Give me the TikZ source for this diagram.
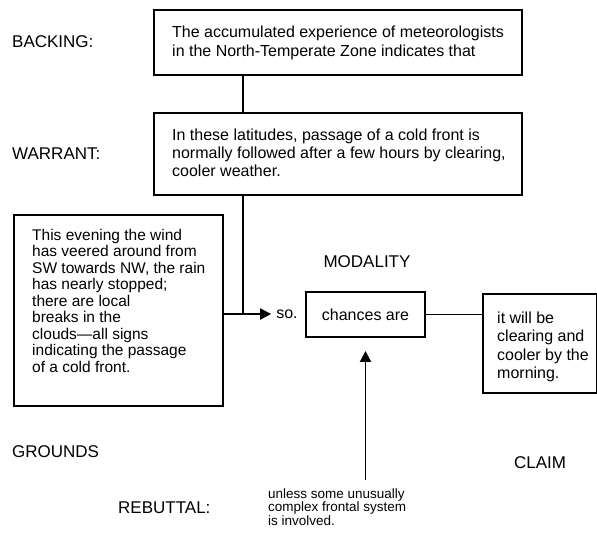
\documentclass[tikz,border=0pt]{standalone}
\usepackage{fontspec}
\setmainfont{Liberation Sans}
\usetikzlibrary{arrows.meta}
\begin{document}
\begin{tikzpicture}[x=1pt,y=-1pt,
  box/.style={draw, line width=1.9pt, rectangle, inner sep=0pt},
  txt/.style={align=left, inner sep=0pt, font=\fontsize{16}{19}\selectfont},
  lbl/.style={inner sep=0pt, font=\fontsize{17}{19}\selectfont},
  conn/.style={line width=1.9pt},
  arr/.style={line width=1.9pt, -{Triangle[length=11pt,width=11pt]}}]
\useasboundingbox (0,0) rectangle (597,538);
% boxes
\node[box, minimum width=368pt, minimum height=65pt] (backing) at (338,42.5) {};
\node[txt, anchor=west] (backingtext) at (172,42.5) {The accumulated experience of meteorologists\\in the North-Temperate Zone indicates that};
\node[box, minimum width=368pt, minimum height=82pt] (warrant) at (338,154) {};
\node[txt, anchor=west, font=\fontsize{16}{18}\selectfont] (warranttext) at (172,153) {In these latitudes, passage of a cold front is\\normally followed after a few hours by clearing,\\cooler weather.};
\node[box, minimum width=209pt, minimum height=191pt] (grounds) at (118.5,310.5) {};
\node[txt, anchor=north west, font=\fontsize{15.5}{16.5}\selectfont] (groundstext) at (32,229) {This evening the wind\\has veered around from\\SW towards NW, the rain\\has nearly stopped;\\there are local\\breaks in the\\clouds\textemdash all signs\\indicating the passage\\of a cold front.};
\node[box, minimum width=119pt, minimum height=45pt, font=\fontsize{16}{18}\selectfont] (chances) at (365.5,314.5) {chances are};
\node[box, minimum width=114pt, minimum height=99pt] (claim) at (540,343.5) {};
\node[txt, anchor=west, font=\fontsize{16}{18.3}\selectfont] (claimtext) at (497,347) {it will be\\clearing and\\cooler by the\\morning.};
% labels
\node[lbl, anchor=west] (lback) at (12,42) {BACKING:};
\node[lbl, anchor=west] (lwarr) at (12,154) {WARRANT:};
\node[lbl, anchor=west] (lgrou) at (12,452) {GROUNDS};
\node[lbl] (lclaim) at (540,463) {CLAIM};
\node[lbl] (lmod) at (367,262) {MODALITY};
\node[lbl, anchor=west] (lreb) at (118,508) {REBUTTAL:};
\node[lbl, font=\fontsize{16}{18}\selectfont] (so) at (287,314) {so.};
\node[txt, anchor=west, font=\fontsize{13.5}{13.5}\selectfont] (rebtext) at (268,507) {unless some unusually\\complex frontal system\\is involved.};
% connectors
\coordinate (jx) at (243,0);
\coordinate (rb) at (365.5,480);
\draw[conn] (backing.south -| jx) -- (warrant.north -| jx);
\draw[conn] (warrant.south -| jx) -- (jx |- so.west);
\draw[arr] (grounds.east |- so.west) -- ([xshift=-5pt]so.west);
\draw[conn] (chances.east) -- (chances.east -| claim.west);
\draw[arr] (rb) -- ([yshift=-13pt]chances.south);
\end{tikzpicture}
\end{document}
